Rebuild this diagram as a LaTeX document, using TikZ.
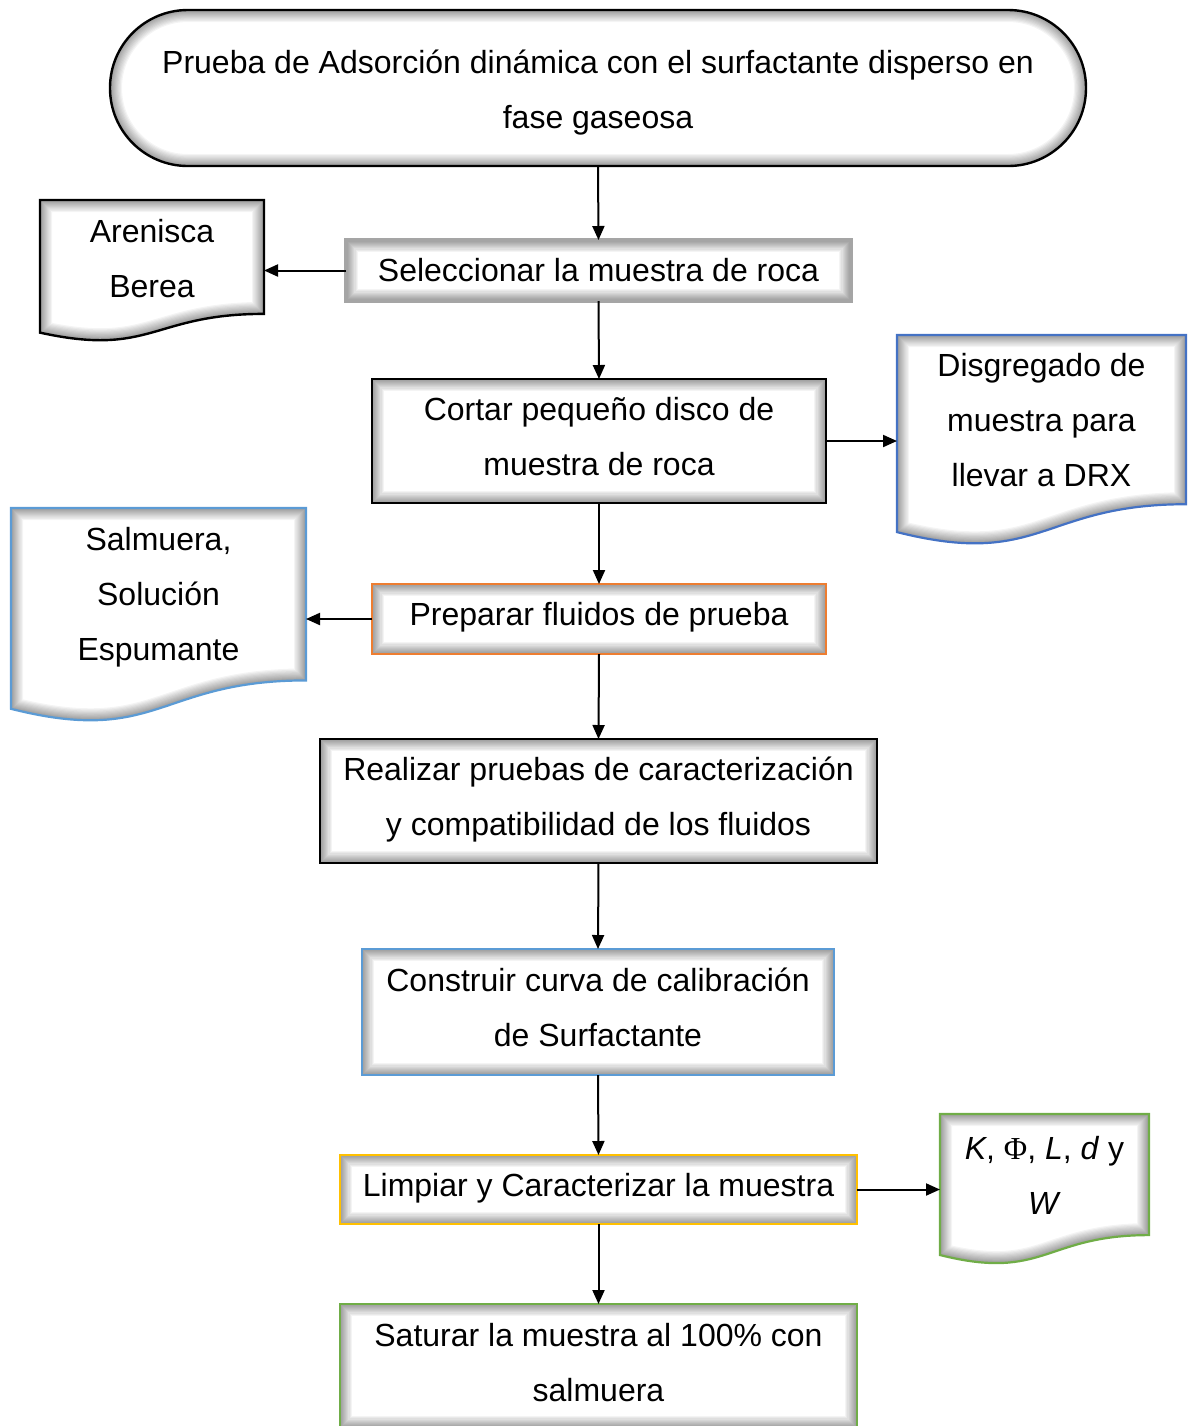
\documentclass[tikz,border=0pt]{standalone}
\usepackage{fontspec}
\setmainfont{Liberation Sans}
\newfontfamily\phifont{Liberation Serif}
\usetikzlibrary{calc,arrows.meta,backgrounds}
\definecolor{bordgray}{HTML}{A5A5A5}
\definecolor{bordblue}{HTML}{4472C4}
\definecolor{bordlblue}{HTML}{5B9BD5}
\definecolor{bordorange}{HTML}{ED7D31}
\definecolor{bordgold}{HTML}{FFC000}
\definecolor{bordgreen}{HTML}{70AD47}
\newcommand\shadedshape[2]{%
  \begin{scope}
    \clip #2;
    \foreach \w in {12pt,10.8pt,9.6pt,8.4pt,7.2pt,6pt,4.9pt,3.8pt,2.8pt,1.8pt}{\draw[line width=\w,black,opacity=0.045] #2;}
  \end{scope}
  \draw[#1] #2;}
\newcommand\docshape[2]{%
  \shadedshape{#2}{(#1.north west) -- (#1.north east) -- ($(#1.north east)!0.802!(#1.south east)$) .. controls ($(#1.north)!0.802!(#1.south)$) and ($(#1.north)!1.1075!(#1.south)$) .. ($(#1.north west)!0.934!(#1.south west)$) -- cycle}}
\newcommand\boxshape[2]{%
  \shadedshape{#2}{(#1.north west) rectangle (#1.south east)}}
\begin{document}
\begin{tikzpicture}[x=0.5pt,y=-0.5pt,
  every node/.style={font=\fontsize{16pt}{27.5pt}\selectfont, align=center, inner sep=0pt, outer sep=0pt},
  arr/.style={-{Triangle[length=7pt,width=6pt]}, line width=1pt},
  blackline/.style={draw=black, line width=1.2pt},
  colline/.style={draw=#1, line width=1.1pt}]
\useasboundingbox (0,0) rectangle (1188,1426);

% shape nodes
\node[minimum width=488pt, minimum height=78pt] (term) at (598,88) {};
\node[minimum width=252.5pt, minimum height=30.5pt] (sel) at (598.5,270.5) {};
\node[minimum width=112pt, minimum height=71pt] (aren) at (152,271) {};
\node[minimum width=227pt, minimum height=62pt] (cort) at (599,441) {};
\node[minimum width=144.5pt, minimum height=105.5pt] (disg) at (1041.5,440.5) {};
\node[minimum width=227pt, minimum height=35pt] (prep) at (599,619) {};
\node[minimum width=147.5pt, minimum height=107.5pt] (salm) at (158.5,615.5) {};
\node[minimum width=278.5pt, minimum height=62pt] (real) at (598.5,801) {};
\node[minimum width=236pt, minimum height=63pt] (cons) at (598,1012) {};
\node[minimum width=258.5pt, minimum height=34.5pt] (limp) at (598.5,1189.5) {};
\node[minimum width=104.5pt, minimum height=75.5pt] (kdoc) at (1044.5,1189.5) {};
\node[minimum width=258.5pt, minimum height=62pt] (satu) at (598.5,1366) {};

% text nodes
\node (termt) at ([yshift=-2.5pt]term.center)
  {Prueba de Adsorción dinámica con el surfactante disperso en\\fase gaseosa};
\node (selt) at ([yshift=0.3pt]sel.center) {Seleccionar la muestra de roca};
\node (arent) at ([yshift=6.25pt]aren.center) {Arenisca\\Berea};
\node (cortt) at ([yshift=2pt]cort.center) {Cortar pequeño disco de\\muestra de roca};
\node (disgt) at ([yshift=10pt]disg.center) {Disgregado de\\muestra para\\llevar a DRX};
\node (prept) at ([yshift=1pt]prep.center) {Preparar fluidos de prueba};
\node (salmt) at ([yshift=9pt]salm.center) {Salmuera,\\Solución\\Espumante};
\node (realt) at ([yshift=0.5pt]real.center)
  {Realizar pruebas de caracterización\\y compatibilidad de los fluidos};
\node (const) at ([yshift=2.5pt]cons.center) {Construir curva de calibración\\de Surfactante};
\node (limpt) at ([yshift=0.5pt]limp.center) {Limpiar y Caracterizar la muestra};
\node (kdoct) at ([yshift=7pt]kdoc.center) {\textit{K}, {\phifont Φ}, \textit{L}, \textit{d} y\\\textit{W}};
\node (satut) at ([yshift=1.5pt]satu.center) {Saturar la muestra al 100\% con\\salmuera};

% shapes on background
\begin{scope}[on background layer]
  \shadedshape{blackline}{[rounded corners=38.9pt] (term.north west) rectangle (term.south east)}
  \boxshape{sel}{draw=bordgray, line width=1.6pt}
  \docshape{aren}{blackline}
  \boxshape{cort}{blackline}
  \docshape{disg}{colline=bordblue}
  \boxshape{prep}{colline=bordorange}
  \docshape{salm}{colline=bordlblue}
  \boxshape{real}{blackline}
  \boxshape{cons}{colline=bordlblue}
  \boxshape{limp}{colline=bordgold}
  \docshape{kdoc}{colline=bordgreen}
  \boxshape{satu}{colline=bordgreen}
\end{scope}

% connectors
\draw[arr] (term.south) -- (sel.north);
\draw[arr] (sel.west) -- (sel.west -| aren.east);
\draw[arr] (sel.south) -- (cort.north);
\draw[arr] (cort.east) -- (cort.east -| disg.west);
\draw[arr] (cort.south) -- (prep.north);
\draw[arr] (prep.west) -- (prep.west -| salm.east);
\draw[arr] (prep.south) -- (real.north);
\draw[arr] (real.south) -- (cons.north);
\draw[arr] (cons.south) -- (limp.north);
\draw[arr] (limp.east) -- (limp.east -| kdoc.west);
\draw[arr] (limp.south) -- (satu.north);
\end{tikzpicture}
\end{document}
